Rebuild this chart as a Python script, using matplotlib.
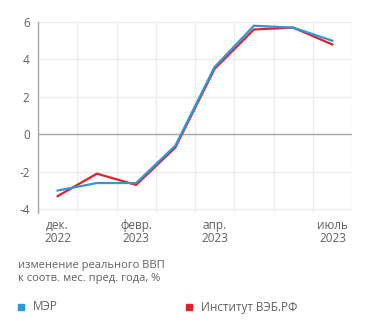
"""Real GDP change vs same month of previous year: MER vs VEB.RF Institute."""
import matplotlib
matplotlib.use("Agg")
import matplotlib.pyplot as plt
from matplotlib.ticker import MultipleLocator

# ── data ──────────────────────────────────────────────────────────────────────
months = ["дек.\n2022", "янв.\n2023", "февр.\n2023", "март\n2023",
          "апр.\n2023", "май\n2023", "июнь\n2023", "июль\n2023"]
labelled = [0, 2, 4, 7]
mer = [-3.0, -2.6, -2.6, -0.6, 3.6, 5.8, 5.7, 5.0]
veb = [-3.3, -2.1, -2.7, -0.7, 3.5, 5.6, 5.7, 4.8]

BLUE = "#2f98d3"
RED = "#e41e2b"
TEXT = "#606060"

plt.rcParams["font.family"] = ["Open Sans", "DejaVu Sans"]
plt.rcParams["axes.unicode_minus"] = False

fig = plt.figure(figsize=(3.71, 3.29), dpi=100)
ax = fig.add_axes([38 / 371, 1 - 213 / 329, (352 - 38) / 371, (213 - 22) / 329])

x = range(len(months))
ax.plot(x, veb, color=RED, lw=1.6, solid_joinstyle="miter")
ax.plot(x, mer, color=BLUE, lw=1.6, solid_joinstyle="miter")

ax.set_xlim(-0.5, len(months) - 0.5)
ax.set_ylim(-4.2, 6.0)
ax.yaxis.set_major_locator(MultipleLocator(2))
ax.set_xticks(labelled)
ax.set_xticklabels([months[i] for i in labelled], color=TEXT, fontsize=8.5,
                   linespacing=1.0)
ax.set_xticks([i - 0.5 for i in range(len(months) + 1)], minor=True)
ax.tick_params(axis="x", which="both", length=0, pad=4)
ax.tick_params(axis="y", length=0, pad=6, labelcolor=TEXT, labelsize=8.5)

ax.grid(True, axis="x", which="minor", color="#ececec", lw=1)
ax.grid(True, axis="y", which="major", color="#ececec", lw=1)
ax.set_axisbelow(True)
ax.axhline(0, color="#a8a8a8", lw=1, zorder=1)

for side in ["top", "right", "bottom"]:
    ax.spines[side].set_visible(False)
ax.spines["left"].set_color("#a8a8a8")
ax.spines["left"].set_linewidth(1)

fig.text(18 / 371, 1 - 272 / 329, "изменение реального ВВП\nк соотв. мес. пред. года, %",
         color=TEXT, fontsize=8, va="center", ha="left", linespacing=1.35)

# legend
for lx, col, name in [(18, BLUE, "МЭР"), (186, RED, "Институт ВЭБ.РФ")]:
    fig.patches.append(plt.Rectangle((lx / 371, 1 - 310 / 329), 6 / 371, 6 / 329,
                                     transform=fig.transFigure, color=col))
    fig.text((lx + 15) / 371, 1 - 307 / 329, name, color=TEXT, fontsize=8.5,
             va="center", ha="left")

fig.savefig("out.png", dpi=100)
